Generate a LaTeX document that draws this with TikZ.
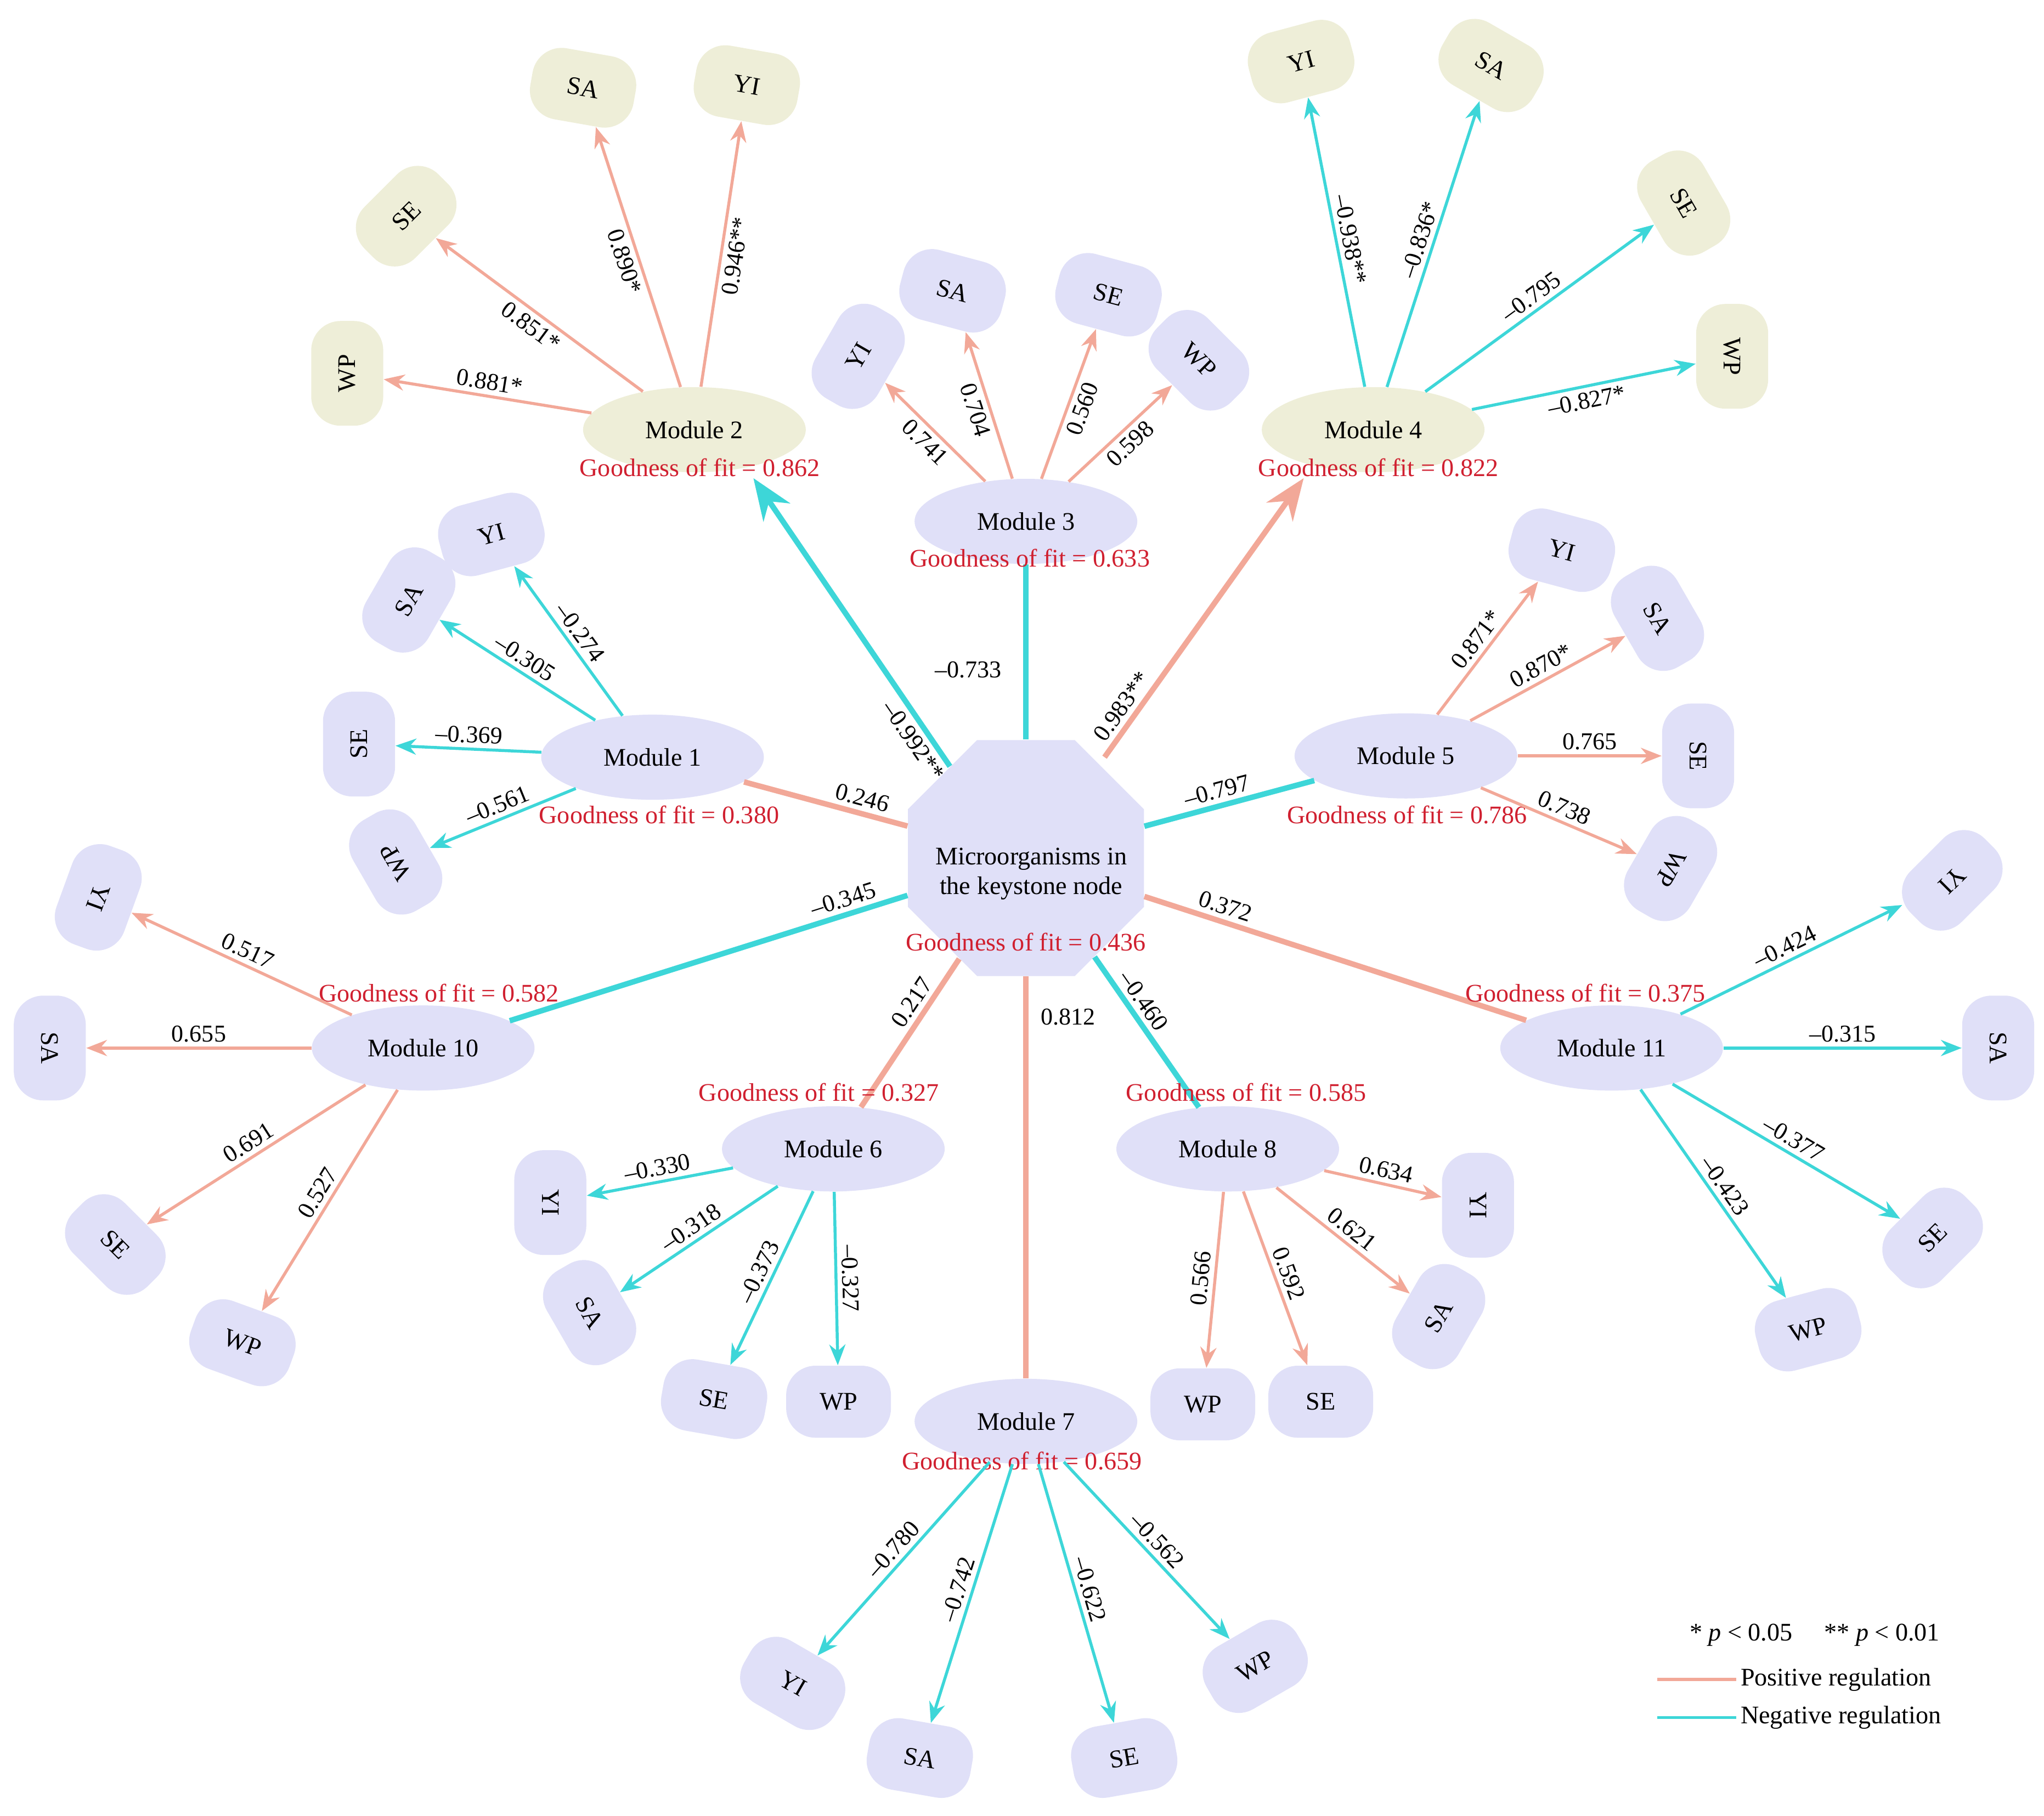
\documentclass[tikz,border=0pt]{standalone}
\usepackage{fontspec}
\setmainfont{Liberation Serif}
\usetikzlibrary{arrows.meta,shapes.geometric}
\definecolor{lav}{HTML}{E0E0F8}
\definecolor{tan}{HTML}{EEEED8}
\definecolor{salm}{HTML}{F2A898}
\definecolor{cyn}{HTML}{3DD6D8}
\definecolor{gofred}{HTML}{D02030}
\tikzset{
  mod/.style={ellipse,fill=lav,minimum width=3.4cm,minimum height=1.3cm,font=\fontsize{11}{13}\selectfont},
  leaf/.style={rounded corners=0.45cm,fill=lav,minimum width=1.6cm,minimum height=1.1cm,font=\fontsize{11}{13}\selectfont},
  gof/.style={text=gofred,font=\fontsize{11}{13}\selectfont,inner sep=1pt},
  plink/.style={draw=salm,line width=1.3pt,-{Stealth[length=9pt,width=7pt]}},
  nlink/.style={draw=cyn,line width=1.3pt,-{Stealth[length=9pt,width=7pt]}},
  lbl/.style={sloped,above,font=\fontsize{10.5}{12}\selectfont,inner sep=2pt,text=black},
  pthick/.style={draw=salm,line width=2.4pt},
  nthick/.style={draw=cyn,line width=2.4pt}
}
\begin{document}
\begin{tikzpicture}[x=0.02cm,y=-0.02cm]
\useasboundingbox (0,0) rectangle (1560,1386);

% keystone node
\node[regular polygon,regular polygon sides=8,fill=lav,minimum size=3.9cm] (C) at (783,655) {};
\node[align=center,font=\fontsize{11}{13}\selectfont] (ct) at (787,667) {Microorganisms in\\the keystone node};
\node[gof] (g0) at (783,719) {Goodness of fit = 0.436};

% modules
\node[mod] (M1) at (498,578) {Module 1};
\node[mod,fill=tan] (M2) at (530,328) {Module 2};
\node[mod] (M3) at (783,398) {Module 3};
\node[mod,fill=tan] (M4) at (1048,328) {Module 4};
\node[mod] (M5) at (1073,577) {Module 5};
\node[mod] (M6) at (636,877) {Module 6};
\node[mod] (M7) at (783,1085) {Module 7};
\node[mod] (M8) at (937,877) {Module 8};
\node[mod] (M10) at (323,800) {Module 10};
\node[mod] (M11) at (1230,800) {Module 11};

% center links
\path (C) edge[pthick] node[lbl,pos=0.3]{0.246} (M1)
      (C) edge[nthick] node[lbl,pos=0.45]{–0.797} (M5)
      (C) edge[nthick] node[lbl,pos=0.15]{–0.345} (M10)
      (C) edge[pthick] node[lbl,pos=0.2]{0.372} (M11)
      (C) edge[pthick] node[lbl,pos=0.35]{0.217} (M6)
      (C) edge[nthick] node[lbl,pos=0.35]{–0.460} (M8);
\path (C.north) edge[nthick] node[left=6pt,pos=0.4,font=\fontsize{10.5}{12}\selectfont]{–0.733} (M3.south);
\path (C.south) edge[pthick] node[right=2pt,pos=0.1,font=\fontsize{10.5}{12}\selectfont]{0.812} (M7.north);

\node[gof] (g1) at (503,622) {Goodness of fit = 0.380};
\node[gof] (g2) at (534,357) {Goodness of fit = 0.862};
\node[gof] (g3) at (786,426) {Goodness of fit = 0.633};
\node[gof] (g4) at (1052,357) {Goodness of fit = 0.822};
\node[gof] (g5) at (1074,622) {Goodness of fit = 0.786};
\node[gof] (g6) at (625,834) {Goodness of fit = 0.327};
\node[gof] (g7) at (780,1115) {Goodness of fit = 0.659};
\node[gof] (g8) at (951,834) {Goodness of fit = 0.585};
\node[gof] (g10) at (335,758) {Goodness of fit = 0.582};
\node[gof] (g11) at (1210,758) {Goodness of fit = 0.375};

\coordinate (a2) at (725,585);
\coordinate (a4) at (843,578);
\coordinate (b2) at (575,365);
\coordinate (b4) at (995,365);
\draw[draw=cyn,line width=2.4pt,-{Stealth[length=18pt,width=14pt]}] (a2) -- node[lbl,below,pos=0.12]{–0.992**} (b2);
\draw[draw=salm,line width=2.4pt,-{Stealth[length=18pt,width=14pt]}] (a4) -- node[lbl,pos=0.15]{0.983**} (b4);

% leaves
\node[leaf,rotate=15] (l1y) at (375,408) {YI};
\node[leaf,rotate=60] (l1a) at (312,458) {SA};
\node[leaf,rotate=90] (l1e) at (274,568) {SE};
\node[leaf,rotate=120] (l1w) at (302,658) {WP};
\node[leaf,fill=tan,rotate=90] (l2w) at (265,285) {WP};
\node[leaf,fill=tan,rotate=45] (l2e) at (310,165) {SE};
\node[leaf,fill=tan,rotate=-10] (l2a) at (445,67) {SA};
\node[leaf,fill=tan,rotate=-10] (l2y) at (570,65) {YI};
\node[leaf,rotate=60] (l3y) at (655,272) {YI};
\node[leaf,rotate=-15] (l3a) at (727,222) {SA};
\node[leaf,rotate=-15] (l3e) at (846,225) {SE};
\node[leaf,rotate=-45] (l3w) at (915,275) {WP};
\node[leaf,fill=tan,rotate=15] (l4y) at (993,47) {YI};
\node[leaf,fill=tan,rotate=-30] (l4a) at (1138,50) {SA};
\node[leaf,fill=tan,rotate=-60] (l4e) at (1285,155) {SE};
\node[leaf,fill=tan,rotate=-90] (l4w) at (1322,272) {WP};
\node[leaf,rotate=-15] (l5y) at (1192,420) {YI};
\node[leaf,rotate=-60] (l5a) at (1265,472) {SA};
\node[leaf,rotate=-90] (l5e) at (1296,577) {SE};
\node[leaf,rotate=-120] (l5w) at (1275,663) {WP};
\node[leaf,rotate=-90] (l6y) at (420,918) {YI};
\node[leaf,rotate=-60] (l6a) at (450,1002) {SA};
\node[leaf,rotate=-10] (l6e) at (545,1068) {SE};
\node[leaf] (l6w) at (640,1070) {WP};
\node[leaf,rotate=-30] (l7y) at (605,1285) {YI};
\node[leaf,rotate=-10] (l7a) at (702,1342) {SA};
\node[leaf,rotate=10] (l7e) at (858,1342) {SE};
\node[leaf,rotate=30] (l7w) at (958,1272) {WP};
\node[leaf,rotate=-90] (l8y) at (1128,920) {YI};
\node[leaf,rotate=60] (l8a) at (1098,1005) {SA};
\node[leaf] (l8e) at (1008,1070) {SE};
\node[leaf] (l8w) at (918,1072) {WP};
\node[leaf,rotate=-110] (l10y) at (75,685) {YI};
\node[leaf,rotate=-90] (l10a) at (38,800) {SA};
\node[leaf,rotate=-45] (l10e) at (88,950) {SE};
\node[leaf,rotate=-20] (l10w) at (185,1025) {WP};
\node[leaf,rotate=-135] (l11y) at (1490,672) {YI};
\node[leaf,rotate=-90] (l11a) at (1525,800) {SA};
\node[leaf,rotate=45] (l11e) at (1475,945) {SE};
\node[leaf,rotate=15] (l11w) at (1380,1015) {WP};

% module to leaf links
\path (M1) edge[nlink] node[lbl]{–0.274} (l1y)
           edge[nlink] node[lbl]{–0.305} (l1a)
           edge[nlink] node[lbl]{–0.369} (l1e)
           edge[nlink] node[lbl]{–0.561} (l1w)
      (M2) edge[plink] node[lbl]{0.881*} (l2w)
           edge[plink] node[lbl,below]{0.851*} (l2e)
           edge[plink] node[lbl,below]{0.890*} (l2a)
           edge[plink] node[lbl,below]{0.946**} (l2y)
      (M3) edge[plink] node[lbl,below]{0.741} (l3y)
           edge[plink] node[lbl,below]{0.704} (l3a)
           edge[plink] node[lbl,below]{0.560} (l3e)
           edge[plink] node[lbl,below]{0.598} (l3w)
      (M4) edge[nlink] node[lbl]{–0.938**} (l4y)
           edge[nlink] node[lbl]{–0.836*} (l4a)
           edge[nlink] node[lbl]{–0.795} (l4e)
           edge[nlink] node[lbl,below]{–0.827*} (l4w)
      (M5) edge[plink] node[lbl]{0.871*} (l5y)
           edge[plink] node[lbl]{0.870*} (l5a)
           edge[plink] node[lbl]{0.765} (l5e)
           edge[plink] node[lbl]{0.738} (l5w)
      (M6) edge[nlink] node[lbl]{–0.330} (l6y)
           edge[nlink] node[lbl]{–0.318} (l6a)
           edge[nlink] node[lbl]{–0.373} (l6e)
           edge[nlink] node[lbl]{–0.327} (l6w)
      (M7) edge[nlink] node[lbl]{–0.780} (l7y)
           edge[nlink] node[lbl]{–0.742} (l7a)
           edge[nlink] node[lbl]{–0.622} (l7e)
           edge[nlink] node[lbl]{–0.562} (l7w)
      (M8) edge[plink] node[lbl]{0.634} (l8y)
           edge[plink] node[lbl]{0.621} (l8a)
           edge[plink] node[lbl]{0.592} (l8e)
           edge[plink] node[lbl]{0.566} (l8w)
      (M10) edge[plink] node[lbl]{0.517} (l10y)
            edge[plink] node[lbl]{0.655} (l10a)
            edge[plink] node[lbl]{0.691} (l10e)
            edge[plink] node[lbl]{0.527} (l10w)
      (M11) edge[nlink] node[lbl]{–0.424} (l11y)
            edge[nlink] node[lbl]{–0.315} (l11a)
            edge[nlink] node[lbl]{–0.377} (l11e)
            edge[nlink] node[lbl]{–0.423} (l11w);

% legend
\node[font=\fontsize{11}{13}\selectfont] (sig) at (1385,1248) {* \textit{p} < 0.05 \quad ** \textit{p} < 0.01};
\coordinate (lp1) at (1265,1282);
\coordinate (lp2) at (1325,1282);
\coordinate (ln1) at (1265,1311);
\coordinate (ln2) at (1325,1311);
\draw[salm,line width=1.3pt] (lp1) -- (lp2) node[right=-2pt,text=black,font=\fontsize{11}{13}\selectfont] (pl) {Positive regulation};
\draw[cyn,line width=1.3pt] (ln1) -- (ln2) node[right=-2pt,text=black,font=\fontsize{11}{13}\selectfont] (nl) {Negative regulation};
\end{tikzpicture}
\end{document}
